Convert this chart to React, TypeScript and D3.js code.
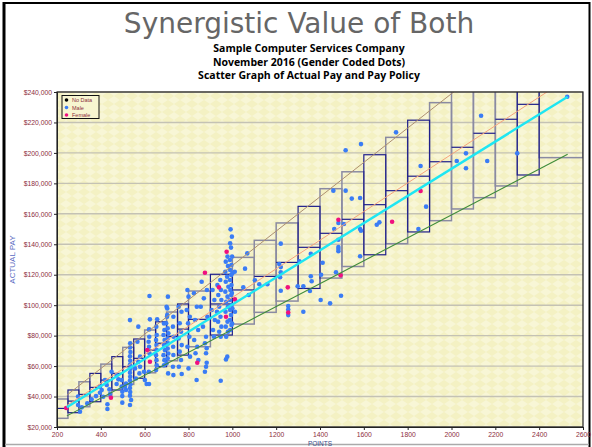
import React, { useEffect, useRef } from "react";
import * as d3 from "d3";

// Axis ticks (pay in thousands of dollars)
const xTicks = [200, 400, 600, 800, 1000, 1200, 1400, 1600, 1800, 2000, 2200, 2400, 2600];
const yTicks = [20, 40, 60, 80, 100, 120, 140, 160, 180, 200, 220, 240];

// Pay grade ranges: points from/to, pay min/mid/max
const gradeFrom = [200, 250, 300, 350, 400, 450, 500, 550, 600, 650, 700, 750, 800, 900, 1000, 1100, 1200, 1300, 1400, 1500, 1600, 1700, 1800, 1900, 2000, 2100, 2200, 2300, 2400];
const gradeTo = [250, 300, 350, 400, 450, 500, 550, 600, 650, 700, 750, 800, 900, 1000, 1100, 1200, 1300, 1400, 1500, 1600, 1700, 1800, 1900, 2000, 2100, 2200, 2300, 2400, 2600];
const gradeMin = [25.7, 29.4, 33.3, 36.6, 40.3, 44.3, 48.0, 52.0, 55.6, 59.6, 63.5, 67.2, 72.7, 80.4, 87.6, 95.3, 102.7, 111.0, 117.8, 125.4, 133.1, 140.4, 148.1, 155.5, 163.2, 170.6, 178.3, 185.5, 196.9];
const gradeMid = [32.2, 37.0, 41.4, 46.0, 50.8, 55.2, 59.6, 65.1, 70.5, 75.0, 79.5, 84.3, 90.7, 100.8, 110.0, 118.9, 128.1, 138.0, 147.2, 156.4, 166.0, 175.2, 184.7, 194.2, 203.7, 212.9, 222.1, 231.9, 245.5];
const gradeMax = [38.4, 44.3, 49.7, 55.2, 61.3, 66.2, 72.3, 77.8, 83.7, 89.1, 95.5, 100.8, 109.3, 120.3, 131.4, 142.6, 154.0, 164.9, 176.5, 187.6, 198.8, 210.2, 221.5, 233.0, 244.4, 255.5, 266.5, 278.3, 294.6];
const gradeSet = ["A", "B", "A", "B", "A", "B", "A", "B", "A", "B", "A", "B", "A", "B", "A", "A", "A", "B", "A", "A", "B", "A", "B", "A", "A", "A", "A", "B", "A"];

// Pay policy lines: [points, pay] at start and end
const policyNames = ["Maximum", "Midpoint", "Minimum", "Actual Pay Line"];
const policyStart = [[245, 40.9], [245, 34.1], [245, 27.3], [245, 33.0]];
const policyEnd = [[2530, 298.7], [2530, 248.9], [2530, 199.1], [2530, 236.9]];

const legendNames = ["No Data", "Male", "Female"];

const noDataDots: number[][] = [];

const maleDots = [
  [296, 34.4], [296, 40.0], [313, 32.9], [305, 30.0], [338, 35.5], [358, 38.2], [378, 40.3], [396, 42.5], [396, 46.5],
  [404, 44.3], [411, 39.9], [419, 50.8], [427, 47.6], [430, 34.9], [430, 31.8], [439, 44.7], [442, 41.6], [449, 56.3],
  [472, 54.1], [472, 48.2], [480, 51.3], [495, 50.8], [495, 46.5], [498, 43.2], [498, 40.3], [498, 36.0], [510, 46.5],
  [515, 48.6], [515, 44.3],
  [533, 90.2], [534, 75.0], [533, 72.2], [535, 69.3], [533, 66.4], [534, 63.5], [533, 60.8], [535, 58.2], [533, 55.6],
  [534, 53.0], [533, 50.5], [535, 48.0], [533, 45.6], [534, 43.0], [533, 40.6], [538, 37.7], [533, 34.4],
  [556, 58.5], [560, 51.9], [567, 76.0], [571, 85.9], [571, 62.9], [576, 55.2], [579, 66.2], [579, 59.6], [597, 56.3],
  [601, 50.8], [609, 48.2], [620, 48.2], [622, 106.0], [624, 90.7], [620, 84.1], [621, 79.3], [618, 76.0], [620, 72.7],
  [622, 68.4], [619, 56.3],
  [653, 85.9], [655, 80.4], [652, 77.1], [654, 73.8], [655, 70.5], [652, 67.2], [654, 63.9], [655, 60.6], [652, 57.4], [657, 90.7],
  [688, 88.0], [690, 83.7], [686, 80.4], [691, 77.1], [688, 73.8], [692, 70.5], [686, 67.2], [690, 63.9], [688, 60.6],
  [703, 97.9], [703, 93.5], [706, 105.6], [705, 84.8], [708, 81.5], [705, 78.2], [707, 74.9], [705, 71.6], [708, 68.3],
  [705, 65.1], [707, 55.2], [700, 99.0], [702, 92.4], [698, 88.1], [700, 61.8],
  [731, 92.4], [729, 85.9], [732, 79.3], [730, 72.7], [731, 67.3], [729, 59.6], [731, 54.1],
  [755, 99.0], [768, 95.7], [760, 88.1], [766, 82.6], [755, 78.2], [769, 73.8], [760, 69.5], [766, 64.0], [756, 59.6], [769, 54.8],
  [795, 110.0], [800, 105.6], [792, 96.8], [806, 92.4], [798, 88.1], [804, 79.3], [795, 72.7], [807, 66.2], [800, 58.5],
  [825, 107.8], [838, 99.0], [830, 90.3], [844, 83.7], [826, 77.1], [840, 72.7], [832, 68.4], [845, 64.0], [837, 50.9],
  [860, 115.4], [884, 110.0], [870, 104.5], [856, 99.0], [886, 92.4], [866, 85.9], [880, 79.3], [875, 75.0], [883, 71.7],
  [880, 68.4], [883, 62.2], [875, 56.3], [880, 59.6],
  [910, 110.0], [918, 103.4], [906, 96.8], [920, 90.3], [912, 83.7], [916, 79.3],
  [945, 116.5], [932, 113.2], [948, 110.0], [936, 106.7], [950, 103.4], [940, 99.0], [930, 95.7], [946, 92.4], [935, 89.2],
  [950, 85.9], [940, 82.6], [947, 79.3], [947, 50.4],
  [978, 131.9], [970, 128.6], [980, 125.7], [968, 122.0], [976, 118.7], [970, 115.4], [982, 112.1], [968, 108.9], [978, 105.6],
  [972, 102.3], [980, 99.0], [969, 95.7], [978, 89.2], [970, 85.9], [980, 82.6], [972, 79.3], [977, 66.2], [971, 64.4],
  [992, 149.8], [990, 140.6], [994, 137.8], [989, 129.7], [996, 126.4], [990, 123.1], [995, 119.8], [989, 116.5], [996, 113.2],
  [991, 110.0], [995, 106.7], [989, 103.4], [996, 100.1], [990, 96.8], [994, 93.5], [989, 90.3], [996, 87.0], [990, 83.7],
  [998, 145.0], [999, 132.0], [1000, 121.0], [998, 108.0], [1000, 98.0], [999, 88.0],
  [1011, 122.0], [1012, 95.7], [1050, 111.7], [1058, 124.0], [1068, 134.0], [1075, 106.7], [1103, 116.3], [1123, 113.7],
  [1160, 113.7], [1214, 127.0], [1221, 125.0], [1221, 121.6], [1218, 118.3], [1221, 140.4], [1221, 109.5],
  [1255, 99.4], [1255, 97.2], [1255, 93.5], [1298, 112.4], [1324, 112.4], [1306, 128.8], [1324, 95.7],
  [1354, 109.3], [1358, 133.8], [1358, 119.0], [1362, 115.7], [1403, 103.4], [1405, 120.0], [1412, 127.9], [1446, 101.2],
  [1461, 175.2], [1465, 150.0], [1473, 121.6], [1484, 154.0], [1484, 143.0], [1484, 138.2], [1484, 136.9], [1484, 135.4],
  [1496, 106.2], [1509, 153.3], [1517, 201.7], [1517, 175.2], [1545, 170.0], [1583, 170.4], [1583, 150.0], [1587, 148.9],
  [1583, 132.1], [1587, 205.8], [1659, 152.8], [1671, 154.4], [1747, 213.5], [1849, 150.0], [1859, 191.4], [1884, 164.7],
  [2024, 194.7], [2066, 199.7], [2066, 189.9], [2135, 224.4], [2163, 194.7], [2300, 199.7], [2528, 236.9],
];

const femaleDots = [
  [242, 32.5], [446, 39.2], [612, 70.5], [624, 62.9], [840, 62.2], [875, 121.3], [939, 111.7], [974, 135.1],
  [971, 92.4], [1012, 103.8], [1253, 111.7], [1255, 95.2], [1484, 156.1], [1494, 119.6], [1729, 154.8], [1859, 175.0],
];

export default function App() {
  const ref = useRef<SVGSVGElement>(null);

  useEffect(() => {
    const svg = d3.select(ref.current);
    svg.selectAll("*").remove();

    // plot area
    const left = 57, right = 583, top = 92, bottom = 427;
    const x = d3.scaleLinear().domain([200, 2600]).range([left, right]);
    const y = d3.scaleLinear().domain([20, 240]).range([bottom, top]);
    const labelColor = "#8c2d3c";
    const sans = "'Liberation Sans', Arial, sans-serif";

    const defs = svg.append("defs");
    defs.append("clipPath").attr("id", "plotClip")
      .append("rect").attr("x", left).attr("y", top).attr("width", right - left).attr("height", bottom - top);
    const pat = defs.append("pattern").attr("id", "paper")
      .attr("width", 12).attr("height", 8).attr("patternUnits", "userSpaceOnUse");
    pat.append("rect").attr("width", 12).attr("height", 8).attr("fill", "#f4f1c3");
    pat.append("path").attr("d", "M0,4 L6,0 L12,4 L6,8Z").attr("fill", "#f8f6d6");

    // page frame
    svg.append("rect").attr("width", 592).attr("height", 447).attr("fill", "#fff");
    svg.append("line").attr("x1", 4).attr("x2", 4).attr("y1", 2).attr("y2", 447).attr("stroke", "#000").attr("stroke-width", 3);
    svg.append("line").attr("x1", 3).attr("x2", 590).attr("y1", 3).attr("y2", 3).attr("stroke", "#000").attr("stroke-width", 2);
    svg.append("line").attr("x1", 589.5).attr("x2", 589.5).attr("y1", 2).attr("y2", 447).attr("stroke", "#000").attr("stroke-width", 2);
    svg.append("line").attr("x1", 5).attr("x2", 589).attr("y1", 444.5).attr("y2", 444.5).attr("stroke", "#aaa").attr("stroke-width", 1.5);

    // titles
    svg.append("text").attr("x", 299).attr("y", 33).attr("text-anchor", "middle")
      .attr("font-family", "'DejaVu Sans', sans-serif").attr("font-size", 28).attr("fill", "#666")
      .text("Synergistic Value of Both");
    const subs = ["Sample Computer Services Company", "November 2016 (Gender Coded Dots)", "Scatter Graph of Actual Pay and Pay Policy"];
    subs.forEach((s, i) => {
      svg.append("text").attr("x", 309).attr("y", 52 + i * 13.5).attr("text-anchor", "middle")
        .attr("font-family", "'Open Sans', sans-serif").attr("font-weight", 700).attr("font-size", 10.5)
        .attr("fill", "#000").text(s);
    });

    // plot background + grid
    svg.append("rect").attr("x", left).attr("y", top).attr("width", right - left).attr("height", bottom - top)
      .attr("fill", "url(#paper)");
    svg.append("g").selectAll("line").data(yTicks).enter().append("line")
      .attr("x1", left).attr("x2", right).attr("y1", (d) => y(d)).attr("y2", (d) => y(d))
      .attr("stroke", "#c4c2b4").attr("stroke-width", 1.4);

    const plot = svg.append("g").attr("clip-path", "url(#plotClip)");

    // grade boxes
    const grades = gradeFrom.map((f, i) => ({
      from: f, to: gradeTo[i], min: gradeMin[i], mid: gradeMid[i], max: gradeMax[i], set: gradeSet[i],
    }));
    const boxColor = (s: string) => (s === "A" ? "#8a8aa2" : "#1e1e8c");
    const sorted = grades.slice().sort((a, b) => (a.set === b.set ? 0 : a.set === "A" ? -1 : 1));
    plot.append("g").selectAll("rect").data(sorted).enter().append("rect")
      .attr("x", (d) => x(d.from)).attr("width", (d) => x(d.to) - x(d.from))
      .attr("y", (d) => y(d.max)).attr("height", (d) => y(d.min) - y(d.max))
      .attr("fill", "none").attr("stroke", (d) => boxColor(d.set))
      .attr("stroke-width", (d) => (d.set === "A" ? 1.5 : 1.2));
    plot.append("g").selectAll("line").data(grades).enter().append("line")
      .attr("x1", (d) => x(d.from)).attr("x2", (d) => x(d.to))
      .attr("y1", (d) => y(d.mid)).attr("y2", (d) => y(d.mid))
      .attr("stroke", "#1e1e8c").attr("stroke-width", 1.2);

    // dots
    const dotSets = [
      { data: noDataDots, color: "#000" },
      { data: maleDots, color: "#3a7cf5" },
      { data: femaleDots, color: "#f0107f" },
    ];
    dotSets.forEach((s) => {
      plot.append("g").selectAll("circle").data(s.data).enter().append("circle")
        .attr("cx", (d) => x(d[0])).attr("cy", (d) => y(d[1])).attr("r", 2.3).attr("fill", s.color);
    });

    // pay policy lines
    const lineColors = ["#ad8f70", "#f5a37c", "#3f8c3a", "#1ee6f2"];
    const lineWidths = [1, 1, 1.1, 2.4];
    policyNames.forEach((n, i) => {
      plot.append("line")
        .attr("x1", x(policyStart[i][0])).attr("y1", y(policyStart[i][1]))
        .attr("x2", x(policyEnd[i][0])).attr("y2", y(policyEnd[i][1]))
        .attr("stroke", lineColors[i]).attr("stroke-width", lineWidths[i]);
    });

    // plot border
    svg.append("rect").attr("x", left).attr("y", top).attr("width", right - left).attr("height", bottom - top)
      .attr("fill", "none").attr("stroke", "#222").attr("stroke-width", 1.2);

    // axes
    const yAxis = svg.append("g").attr("transform", `translate(${left},0)`)
      .call(d3.axisLeft(y).tickValues(yTicks).tickSize(3).tickPadding(2)
        .tickFormat((d) => "$" + d3.format(",")((d as number) * 1000)));
    const xAxis = svg.append("g").attr("transform", `translate(0,${bottom})`)
      .call(d3.axisBottom(x).tickValues(xTicks).tickSize(3).tickPadding(2).tickFormat(d3.format("d")));
    [yAxis, xAxis].forEach((a) => {
      a.select(".domain").attr("stroke", "#222");
      a.selectAll(".tick line").attr("stroke", "#222");
      a.selectAll("text").attr("fill", labelColor).attr("font-size", 6.8).attr("font-family", sans);
    });

    svg.append("text").attr("transform", `translate(15,${(top + bottom) / 2}) rotate(-90)`)
      .attr("text-anchor", "middle").attr("font-family", sans).attr("font-size", 8)
      .attr("fill", "#5a6bc2").text("ACTUAL PAY");
    svg.append("text").attr("x", (left + right) / 2).attr("y", 446).attr("text-anchor", "middle")
      .attr("font-family", sans).attr("font-size", 6.5).attr("fill", "#3a4a8a").text("POINTS");

    // legend
    const lg = svg.append("g").attr("transform", "translate(62,95.5)");
    lg.append("rect").attr("width", 37).attr("height", 23).attr("fill", "#f7f5d0").attr("stroke", "#111").attr("stroke-width", 1);
    legendNames.forEach((n, i) => {
      lg.append("circle").attr("cx", 4.5).attr("cy", 4.5 + i * 7.5).attr("r", 1.8).attr("fill", dotSets[i].color);
      lg.append("text").attr("x", 10).attr("y", 6.5 + i * 7.5).attr("font-family", sans).attr("font-size", 5.5)
        .attr("fill", labelColor).text(n);
    });
  }, []);

  return <svg ref={ref} width={592} height={447} style={{ position: "absolute", left: 0, top: 0 }} />;
}
